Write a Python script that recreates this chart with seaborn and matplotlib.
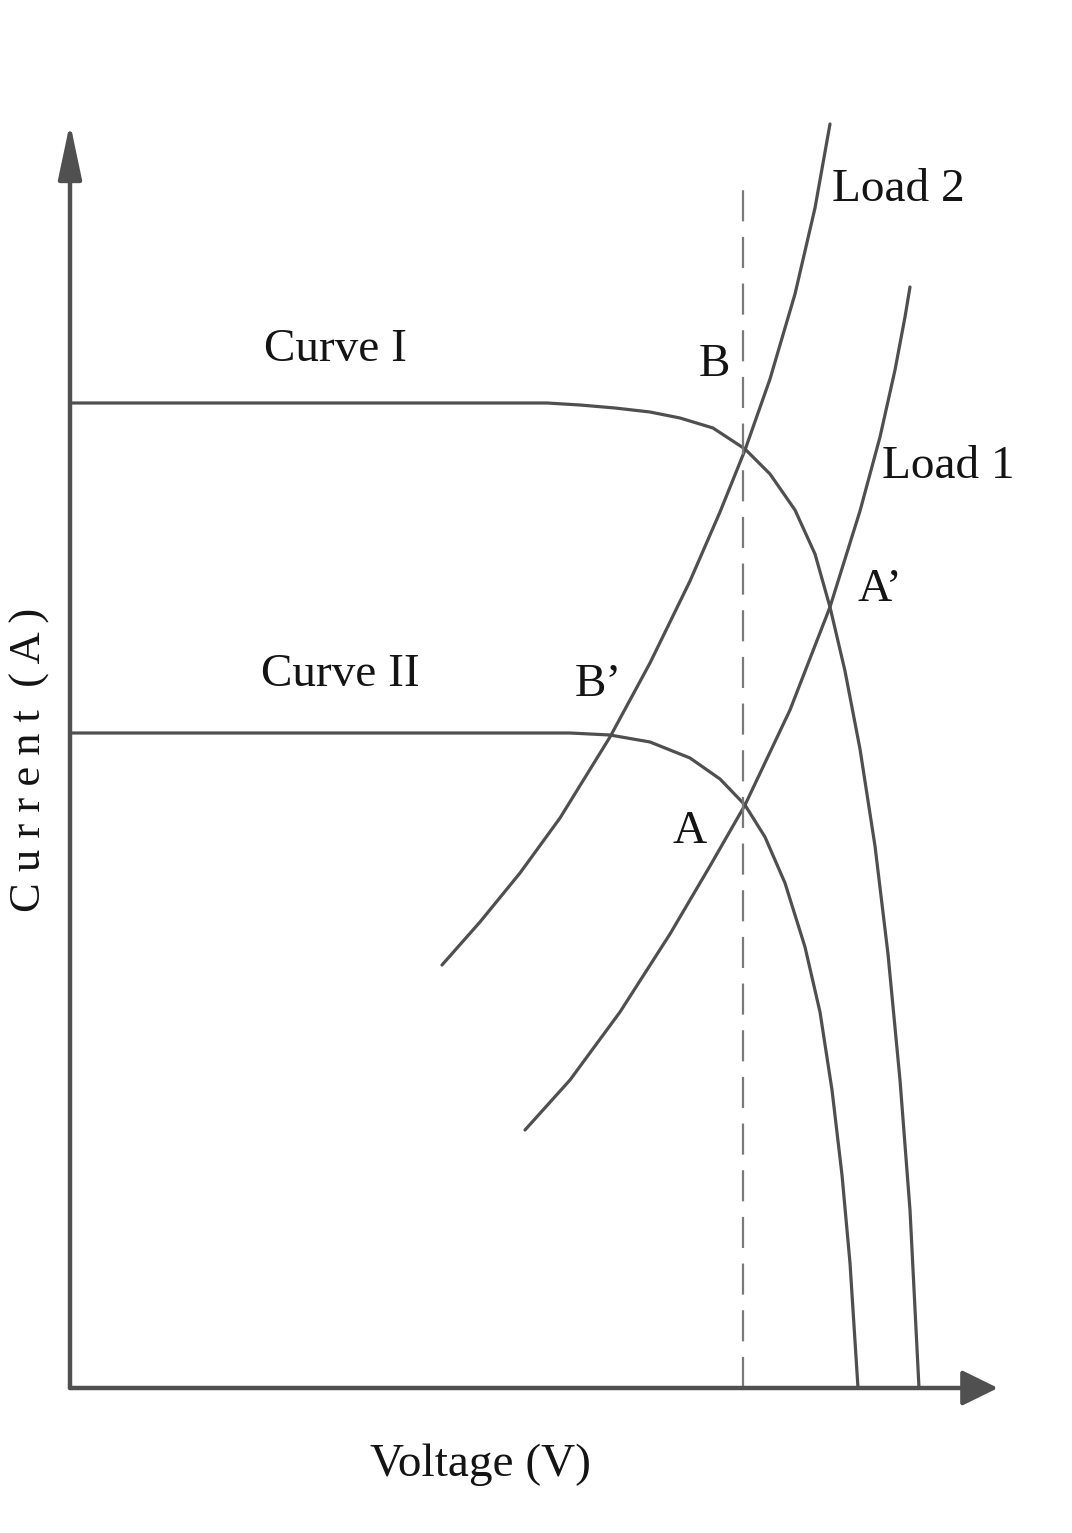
import numpy as np
import pandas as pd
import matplotlib
matplotlib.use("Agg")
import matplotlib.pyplot as plt
import seaborn as sns

# I-V characteristics of a PV source at two irradiance levels
curve1_v = [0, 477, 510, 545, 580, 610, 643, 675, 700, 725, 745, 760, 775, 790, 805, 818, 830, 840, 849]
curve1_i = [985, 985, 983, 980, 976, 970, 960, 939, 914, 878, 834, 781, 717, 639, 542, 434, 308, 178, 0]

curve2_v = [0, 500, 540, 580, 620, 650, 675, 695, 715, 735, 750, 762, 772, 780, 788]
curve2_i = [655, 655, 653, 646, 630, 609, 583, 551, 505, 441, 376, 298, 213, 125, 0]

# Load lines
load2_v = [372, 410, 450, 490, 540, 580, 620, 650, 675, 700, 725, 745, 760]
load2_i = [423, 466, 515, 570, 651, 725, 807, 876, 938, 1009, 1094, 1180, 1264]

load1_v = [455, 500, 550, 600, 640, 675, 720, 760, 790, 810, 825, 835, 840]
load1_i = [258, 308, 376, 454, 522, 583, 678, 781, 877, 951, 1018, 1071, 1101]

# Constant-voltage reference line
ref_v = [673, 673]
ref_i = [0, 1198]

frames = []
for name, v, i in [("Curve I", curve1_v, curve1_i), ("Curve II", curve2_v, curve2_i),
                   ("Load 2", load2_v, load2_i), ("Load 1", load1_v, load1_i)]:
    frames.append(pd.DataFrame({"V": v, "I": i, "series": name}))
df = pd.concat(frames, ignore_index=True)

sns.set_theme(style="white")
plt.rcParams["font.family"] = ["Liberation Serif", "DejaVu Serif"]

fig = plt.figure(figsize=(10.72, 15.33), dpi=100)
ax = fig.add_axes([0, 0, 1, 1])
ax.set_xlim(-70, 1002)
ax.set_ylim(-145, 1388)
ax.axis("off")

line_col = "#4f4f4f"
sns.lineplot(data=df, x="V", y="I", units="series", estimator=None, sort=False,
             color=line_col, linewidth=2.3, ax=ax, legend=False)

ax.plot(ref_v, ref_i, color="#7a7a7a", linewidth=1.6, dashes=(14, 7))

# Axes with arrowheads
axis_col = "#505050"
ax.annotate("", xy=(928, 0), xytext=(0, 0),
            arrowprops=dict(arrowstyle="-|>,head_length=0.55,head_width=0.27", color=axis_col,
                            lw=3.2, shrinkA=0, shrinkB=0, mutation_scale=40))
ax.annotate("", xy=(0, 1265), xytext=(0, 0),
            arrowprops=dict(arrowstyle="-|>,head_length=0.85,head_width=0.18", color=axis_col,
                            lw=3.2, shrinkA=0, shrinkB=0, mutation_scale=40))

txt = "#141414"
fs = 34
ax.text(265, 1038, "Curve I", fontsize=fs, color=txt, ha="center", va="center")
ax.text(270, 713, "Curve II", fontsize=fs, color=txt, ha="center", va="center")
ax.text(828, 1198, "Load 2", fontsize=fs, color=txt, ha="center", va="center")
ax.text(878, 921, "Load 1", fontsize=fs, color=txt, ha="center", va="center")
ax.text(644, 1023, "B", fontsize=fs, color=txt, ha="center", va="center")
ax.text(810, 798, "A’", fontsize=fs, color=txt, ha="center", va="center")
ax.text(528, 703, "B’", fontsize=fs, color=txt, ha="center", va="center")
ax.text(620, 556, "A", fontsize=fs, color=txt, ha="center", va="center")
ax.text(410, -77, "Voltage (V)", fontsize=fs, color=txt, ha="center", va="center")
ax.text(-40, 628, "C u r r e n t  ( A )", fontsize=32, color=txt, ha="center", va="center",
        rotation=90)

fig.savefig("out.png", dpi=100, facecolor="white")
